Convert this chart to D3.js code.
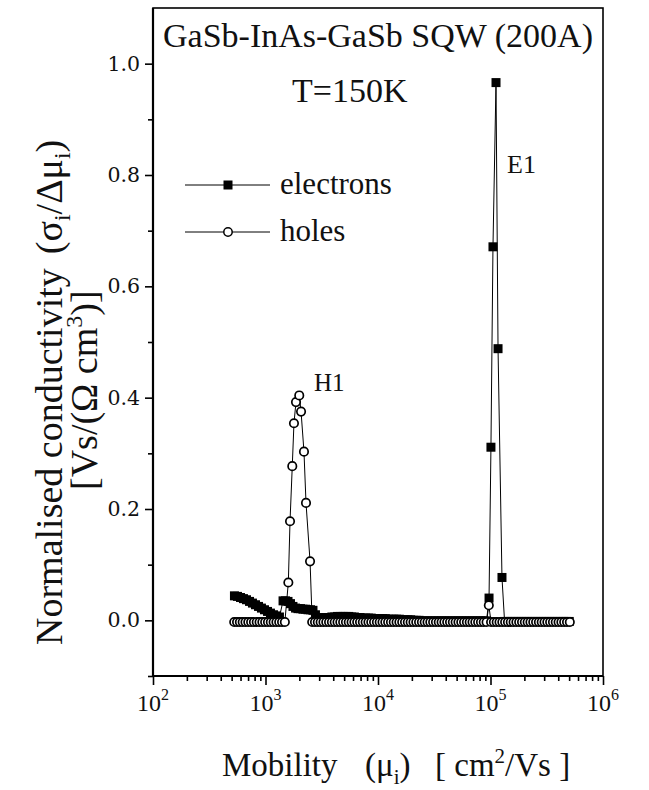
<!DOCTYPE html>
<html><head><meta charset="utf-8">
<script src="https://cdn.jsdelivr.net/npm/d3@7"></script>
<style>
body{margin:0;background:#fff}
svg text{font-family:"Liberation Serif",serif;fill:#111}
svg text.num{font-family:"DejaVu Serif",serif}
</style>
</head><body>
<svg id="c" width="649" height="790"></svg>
<script>
// ---------------- DATA ----------------
const xMajor = [1e2, 1e3, 1e4, 1e5, 1e6];
const xExponents = ["2", "3", "4", "5", "6"];
const yMajor = [0, 0.2, 0.4, 0.6, 0.8, 1.0];
const yTickLabels = ["0.0", "0.2", "0.4", "0.6", "0.8", "1.0"];
const yMinor = [-0.1, 0.1, 0.3, 0.5, 0.7, 0.9];
const seriesNames = ["electrons", "holes"];

// log10 of mobility (cm^2/Vs) for electrons
const electronsLogMu = [
  2.724, 2.751, 2.778, 2.804, 2.831, 2.858, 2.884, 2.911, 2.938, 2.964, 2.991, 3.018, 3.044, 3.071, 3.098, 3.124,
  3.156, 3.178, 3.200, 3.222, 3.244, 3.267, 3.289, 3.311, 3.333, 3.356, 3.378, 3.400, 3.422, 3.444, 3.467,
  3.490, 3.515, 3.540, 3.565, 3.590, 3.615, 3.640, 3.665, 3.690, 3.715, 3.740, 3.765, 3.790, 3.815, 3.840, 3.865, 3.890, 3.915, 3.940, 3.965, 3.990,
  4.015, 4.040, 4.065, 4.090, 4.115, 4.140, 4.165, 4.190, 4.215, 4.240,
  4.265, 4.290, 4.315, 4.340, 4.365, 4.390, 4.415, 4.440, 4.465, 4.490,
  4.515, 4.540, 4.565, 4.590, 4.615, 4.640, 4.665, 4.690, 4.715, 4.740,
  4.765, 4.790, 4.815, 4.840, 4.865, 4.890, 4.915, 4.940, 4.965,
  4.987, 5.004, 5.022, 5.049, 5.067, 5.102,
  5.125, 5.150, 5.175, 5.200, 5.225, 5.250, 5.275, 5.300, 5.325, 5.350, 5.375, 5.400,
  5.425, 5.450, 5.475, 5.500, 5.525, 5.550, 5.575, 5.600, 5.625, 5.650, 5.675, 5.700
];
const electronsValue = [
  0.044, 0.043, 0.041, 0.039, 0.037, 0.034, 0.031, 0.028, 0.025, 0.022, 0.019, 0.016, 0.013, 0.010, 0.008, 0.006,
  0.035, 0.035, 0.034, 0.030, 0.025, 0.022, 0.021, 0.021, 0.020, 0.020, 0.019, 0.019, 0.018, 0.010, 0.005,
  0.004, 0.004, 0.005, 0.005, 0.006, 0.006, 0.007, 0.007, 0.007, 0.007, 0.007, 0.006, 0.006, 0.005, 0.005, 0.004, 0.004, 0.004, 0.004, 0.003, 0.003,
  0.003, 0.003, 0.003, 0.002, 0.002, 0.002, 0.002, 0.002, 0.001, 0.001,
  0.001, 0.001, 0.000, 0.000, 0.000, -0.001, -0.001, -0.001, -0.001, -0.001,
  -0.001, -0.001, -0.001, -0.001, -0.001, -0.001, -0.001, -0.001, -0.001, -0.001,
  -0.001, -0.001, -0.001, -0.001, -0.001, -0.001, -0.001, -0.001, -0.001,
  0.040, 0.311, 0.671, 0.966, 0.488, 0.077,
  -0.002, -0.002, -0.002, -0.002, -0.002, -0.002, -0.002, -0.002, -0.002, -0.002, -0.002, -0.002,
  -0.002, -0.002, -0.002, -0.002, -0.002, -0.002, -0.002, -0.002, -0.002, -0.002, -0.002, -0.002
];

// log10 of mobility (cm^2/Vs) for holes
const holesLogMu = [
  2.722, 2.747, 2.772, 2.797, 2.822, 2.847, 2.872, 2.897, 2.922, 2.947, 2.972, 2.997, 3.022, 3.047, 3.072, 3.097, 3.122, 3.147, 3.172,
  3.203, 3.218, 3.238, 3.253, 3.271, 3.300, 3.316, 3.342, 3.360, 3.396,
  3.415, 3.440, 3.465, 3.490, 3.515, 3.540, 3.565, 3.590, 3.615, 3.640,
  3.665, 3.690, 3.715, 3.740, 3.765, 3.790, 3.815, 3.840, 3.865, 3.890,
  3.915, 3.940, 3.965, 3.990, 4.015, 4.040, 4.065, 4.090, 4.115, 4.140,
  4.165, 4.190, 4.215, 4.240, 4.265, 4.290, 4.315, 4.340, 4.365, 4.390,
  4.415, 4.440, 4.465, 4.490, 4.515, 4.540, 4.565, 4.590, 4.615, 4.640,
  4.665, 4.690, 4.715, 4.740, 4.765, 4.790, 4.815, 4.840, 4.865, 4.890,
  4.915, 4.940, 4.965,
  4.985,
  5.005, 5.030, 5.055, 5.080, 5.105, 5.130, 5.155, 5.180, 5.205, 5.230,
  5.255, 5.280, 5.305, 5.330, 5.355, 5.380, 5.405, 5.430, 5.455, 5.480,
  5.505, 5.530, 5.555, 5.580, 5.605, 5.630, 5.655, 5.680, 5.705
];
const holesValue = [
  -0.003, -0.003, -0.003, -0.003, -0.003, -0.003, -0.003, -0.003, -0.003, -0.003,
  -0.003, -0.003, -0.003, -0.003, -0.003, -0.003, -0.003, -0.003, -0.003,
  0.068, 0.178, 0.277, 0.354, 0.392, 0.404, 0.375, 0.303, 0.211, 0.106,
  -0.003, -0.003, -0.003, -0.003, -0.003, -0.003, -0.003, -0.003, -0.003, -0.003,
  -0.003, -0.003, -0.003, -0.003, -0.003, -0.003, -0.003, -0.003, -0.003, -0.003,
  -0.003, -0.003, -0.003, -0.003, -0.003, -0.003, -0.003, -0.003, -0.003, -0.003,
  -0.003, -0.003, -0.003, -0.003, -0.003, -0.003, -0.003, -0.003, -0.003, -0.003,
  -0.003, -0.003, -0.003, -0.003, -0.003, -0.003, -0.003, -0.003, -0.003, -0.003,
  -0.003, -0.003, -0.003, -0.003, -0.003, -0.003, -0.003, -0.003, -0.003, -0.003,
  -0.003, -0.003, -0.003,
  0.027,
  -0.003, -0.003, -0.003, -0.003, -0.003, -0.003, -0.003, -0.003, -0.003, -0.003,
  -0.003, -0.003, -0.003, -0.003, -0.003, -0.003, -0.003, -0.003, -0.003, -0.003,
  -0.003, -0.003, -0.003, -0.003, -0.003, -0.003, -0.003, -0.003, -0.003
];

// ---------------- CHART ----------------
const svg = d3.select("#c");
const pL = 153, pR = 603, pT = 8, pB = 676;
const SERIF = "Liberation Serif";

const x = d3.scaleLog().domain([1e2, 1e6]).range([pL, pR]);
const y = d3.scaleLinear().domain([-0.1, 1.1]).range([pB, pT]);

const electrons = electronsLogMu.map((lm, i) => ({mu: Math.pow(10, lm), v: electronsValue[i]}));
const holes = holesLogMu.map((lm, i) => ({mu: Math.pow(10, lm), v: holesValue[i]}));

function txt(sel, size) {
  return sel.attr("font-family", SERIF).style("font-family", SERIF)
    .style("font-size", size + "px").attr("fill", "#111");
}

// axes
const gx = svg.append("g").attr("transform", `translate(0,${pB})`)
  .call(d3.axisBottom(x).tickValues(xMajor).tickSize(9).tickFormat(""));
const xMinor = x.ticks().filter(t => !xMajor.includes(t));
const gx2 = svg.append("g").attr("transform", `translate(0,${pB})`)
  .call(d3.axisBottom(x).tickValues(xMinor).tickSize(5).tickFormat(""));
const gy = svg.append("g").attr("transform", `translate(${pL},0)`)
  .call(d3.axisLeft(y).tickValues(yMajor).tickSize(8).tickPadding(5)
    .tickFormat((d, i) => yTickLabels[i]));
const gy2 = svg.append("g").attr("transform", `translate(${pL},0)`)
  .call(d3.axisLeft(y).tickValues(yMinor).tickSize(5).tickFormat(""));
[gx, gx2, gy, gy2].forEach(g => {
  g.attr("font-family", null).attr("font-size", null);
  g.select(".domain").remove();
  g.selectAll("line").attr("stroke", "#000").attr("stroke-width", 1.6);
});
gy.selectAll("text").attr("class", "num").attr("font-family", "DejaVu Serif")
  .style("font-family", "DejaVu Serif").style("font-size", "20.5px").attr("fill", "#111");

// x tick labels 10^n
xMajor.forEach((v, i) => {
  const t = txt(svg.append("text"), 24).attr("x", x(v)).attr("y", 711).attr("text-anchor", "middle");
  t.append("tspan").text("10");
  t.append("tspan").attr("dy", -11).style("font-size", "16px").text(xExponents[i]);
});

// frame
svg.append("rect").attr("x", pL).attr("y", pT).attr("width", pR - pL).attr("height", pB - pT)
  .attr("fill", "none").attr("stroke", "#000").attr("stroke-width", 1.6);
svg.append("line").attr("x1", pL).attr("x2", pL).attr("y1", pT).attr("y2", pB)
  .attr("stroke", "#000").attr("stroke-width", 2.2);
svg.append("line").attr("x1", pL).attr("x2", pR).attr("y1", pB).attr("y2", pB)
  .attr("stroke", "#000").attr("stroke-width", 2.2);

// series
const line = d3.line().x(d => x(d.mu)).y(d => y(d.v));
const plot = svg.append("g");
plot.append("path").datum(electrons).attr("d", line).attr("fill", "none").attr("stroke", "#000").attr("stroke-width", 1);
const sq = 9;
plot.selectAll("rect.e").data(electrons).join("rect").attr("class", "e")
  .attr("x", d => x(d.mu) - sq / 2).attr("y", d => y(d.v) - sq / 2)
  .attr("width", sq).attr("height", sq).attr("fill", "#000");
plot.append("path").datum(holes).attr("d", line).attr("fill", "none").attr("stroke", "#000").attr("stroke-width", 1);
plot.selectAll("circle.h").data(holes).join("circle").attr("class", "h")
  .attr("cx", d => x(d.mu)).attr("cy", d => y(d.v)).attr("r", 4.2)
  .attr("fill", "#fff").attr("stroke", "#000").attr("stroke-width", 1.7);

// legend
const lg = svg.append("g");
[[185, "square"], [232, "circle"]].forEach(([ly, m], i) => {
  lg.append("line").attr("x1", 185).attr("x2", 270).attr("y1", ly).attr("y2", ly)
    .attr("stroke", "#000").attr("stroke-width", 1);
  if (m === "square") lg.append("rect").attr("x", 228 - sq / 2).attr("y", ly - sq / 2)
    .attr("width", sq).attr("height", sq).attr("fill", "#000");
  else lg.append("circle").attr("cx", 228).attr("cy", ly).attr("r", 4.2)
    .attr("fill", "#fff").attr("stroke", "#000").attr("stroke-width", 1.5);
  txt(lg.append("text"), 31).attr("x", 280).attr("y", ly + 9).text(seriesNames[i]);
});

// annotations
txt(svg.append("text"), 34).attr("x", 163).attr("y", 47).text("GaSb-InAs-GaSb SQW (200A)");
txt(svg.append("text"), 34).attr("x", 292).attr("y", 102).text("T=150K");
txt(svg.append("text"), 26).attr("x", 507).attr("y", 173).text("E1");
txt(svg.append("text"), 25).attr("x", 314).attr("y", 391).text("H1");

// x axis title
const xt = txt(svg.append("text"), 33).attr("y", 776);
xt.append("tspan").attr("x", 222).text("Mobility");
xt.append("tspan").attr("x", 365).text("(μ");
xt.append("tspan").attr("dy", 8).style("font-size", "21px").text("i");
xt.append("tspan").attr("dy", -8).text(")");
xt.append("tspan").attr("x", 435).text("[ cm");
xt.append("tspan").attr("dy", -13).style("font-size", "21px").text("2");
xt.append("tspan").attr("dy", 13).text("/Vs ]");

// y axis title (two rotated lines)
const yt1 = txt(svg.append("text"), 38).attr("transform", "translate(62,645) rotate(-90)");
yt1.append("tspan").text("Normalised conductivity");
yt1.append("tspan").attr("dx", 14).text("(σ");
yt1.append("tspan").attr("dy", 8).style("font-size", "24px").text("i");
yt1.append("tspan").attr("dy", -8).text("/Δμ");
yt1.append("tspan").attr("dy", 8).style("font-size", "24px").text("i");
yt1.append("tspan").attr("dy", -8).text(")");

const yt2 = txt(svg.append("text"), 38).attr("transform", "translate(97,490) rotate(-90)");
yt2.append("tspan").text("[Vs/(Ω cm");
yt2.append("tspan").attr("dy", -15).style("font-size", "24px").text("3");
yt2.append("tspan").attr("dy", 15).text(")]");
</script></body></html>
